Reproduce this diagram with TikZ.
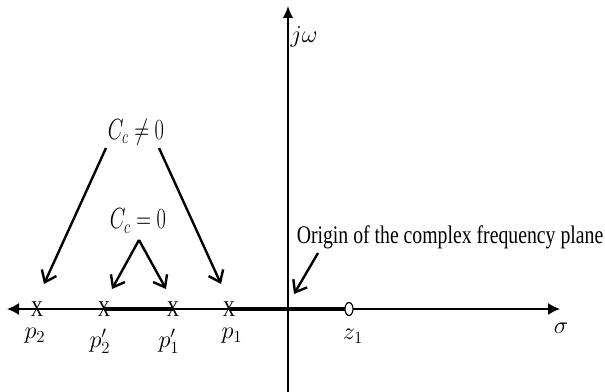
\documentclass[tikz,border=0pt]{standalone}
\usepackage{amsmath}
\usepackage{fontspec}
\setmainfont{Liberation Serif}
\usetikzlibrary{arrows.meta,shapes.geometric}
\newcommand{\narrow}[2]{\scalebox{#1}[1]{#2}}
\tikzset{
  axis/.style={line width=1pt},
  locus/.style={line width=2.8pt},
  pointer/.style={line width=1.7pt,-{Straight Barb[length=2.6mm,width=4mm,line width=1.7pt]}},
  polemark/.style={inner sep=0pt,font=\fontsize{16}{16}\selectfont},
  plabel/.style={inner sep=0pt,font=\fontsize{18}{18}\selectfont},
  gainlabel/.style={inner sep=0pt,font=\fontsize{21}{21}\selectfont}
}

\begin{document}
\begin{tikzpicture}[x=0.025cm,y=-0.025cm]
  \useasboundingbox (0,0) rectangle (605,392);
  \draw[axis,{Latex[length=3mm,width=3mm]}-{Latex[length=3mm,width=3mm]}] (7,309) -- (560,309);
  \draw[axis,-{Latex[length=3mm,width=2.6mm]}] (288,392) -- (288,6);
  \node[plabel] (jw) at (304,37) {$j\omega$};
  \node[plabel] (sigma) at (561,328) {$\sigma$};

  \foreach \n/\x in {pa/37,pb/104,pc/173,pd/229}
    \node[polemark] (\n) at (\x,309) {\narrow{0.75}{X}};
  \coordinate (z) at (349,309);
  \coordinate (zw) at (345,309);

  \draw[locus] (pb.center) -- (pc.center);
  \draw[locus] (pd.center) -- (zw);
  \draw[line width=0.8pt,fill=white] (z) ellipse [x radius=4,y radius=6.5];

  \foreach \n/\x/\y/\t in {la/35/336/p_2,lb/100/341/p'_2,lc/169/341/p'_1,ld/232/336/p_1,lz/353/336/z_1}
    \node[plabel] (\n) at (\x,\y) {$\t$};

  \node[gainlabel] (cne) at (136,132) {\narrow{0.7}{$C_c \neq 0$}};
  \node[gainlabel] (ceq) at (138,221) {\narrow{0.7}{$C_c = 0$}};
  \node (org) at (450,237) {\fontsize{18}{18}\selectfont\narrow{0.78}{Origin of the complex frequency plane}};

  \coordinate (s1) at (106,148);
  \coordinate (s2) at (159,148);
  \coordinate (s3) at (139,240);
  \coordinate (s4) at (318,253);
  \coordinate (t1) at (44,284);
  \coordinate (t2) at (221,284);
  \coordinate (t3) at (112,289);
  \coordinate (t4) at (166,289);
  \coordinate (t5) at (294,294);
  \draw[pointer] (s1) -- (t1);
  \draw[pointer] (s2) -- (t2);
  \draw[pointer] (s3) -- (t3);
  \draw[pointer] (s3) -- (t4);
  \draw[pointer] (s4) -- (t5);
\end{tikzpicture}
\end{document}
